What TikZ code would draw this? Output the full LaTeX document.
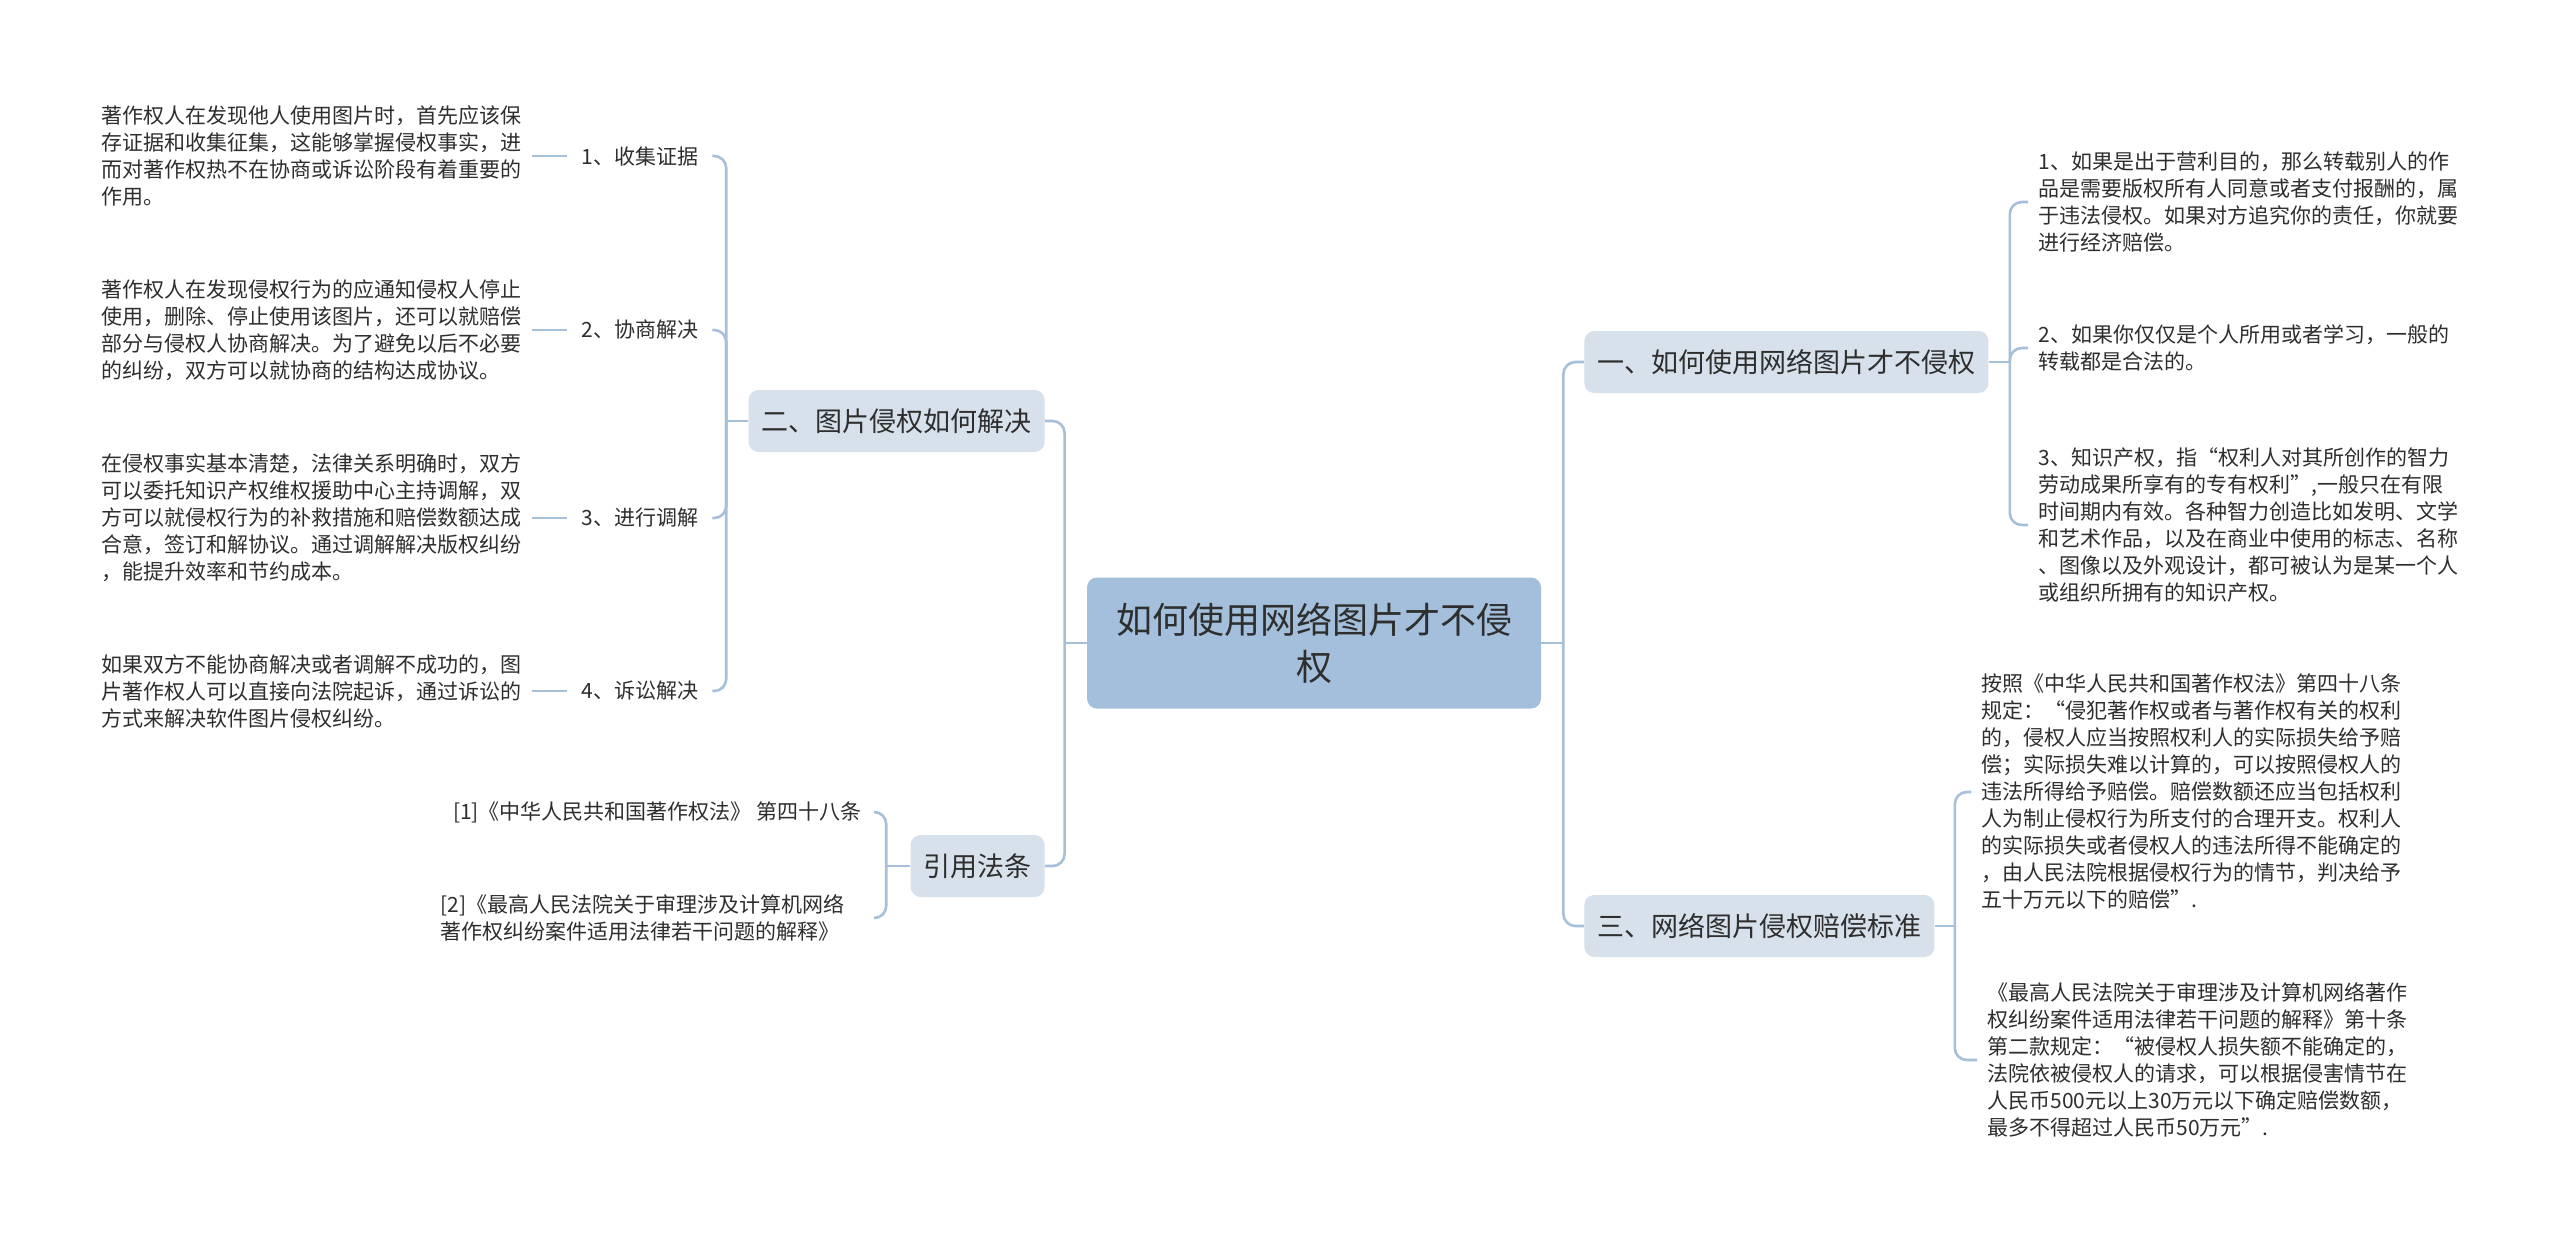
\documentclass[tikz,border=0pt]{standalone}
\usepackage{fontspec}
\newfontfamily\cjk{Noto Sans CJK SC}
\definecolor{linkblue}{HTML}{A6C0DA}
\definecolor{rootblue}{HTML}{A3BFDB}
\definecolor{branchblue}{HTML}{D6E1EB}
\definecolor{inkgray}{HTML}{2E2E2E}
\tikzset{
  link/.style={draw=linkblue,line width=1.3pt},
  elbow/.style={link,rounded corners=6pt},
  rootbox/.style={fill=rootblue,rounded corners=5pt,minimum width=227pt,minimum height=65.5pt,
    align=center,text=inkgray,font=\cjk\fontsize{18}{23.5}\selectfont},
  branchbox/.style={fill=branchblue,rounded corners=5pt,minimum height=31pt,inner xsep=6.5pt,
    text=inkgray,font=\cjk\fontsize{13.5}{16}\selectfont},
  leaf/.style={align=left,inner xsep=5pt,inner ysep=2pt,text=inkgray,
    font=\cjk\fontsize{10.5}{13.5}\selectfont},
  tag/.style={inner xsep=7pt,text=inkgray,font=\cjk\fontsize{10.5}{13.5}\selectfont}
}
\begin{document}
\begin{tikzpicture}[x=0.5pt,y=-0.5pt]
\useasboundingbox[fill=white] (0,0) rectangle (2560,1243);

\node[rootbox] (root) at (1314,643) {如何使用网络图片才不侵\\权};

\node[branchbox,anchor=east] (n2) at (1045,421) {二、图片侵权如何解决};
\node[branchbox,anchor=east] (n5) at (1045,866) {引用法条};
\node[branchbox,anchor=west] (n1) at (1584,362) {一、如何使用网络图片才不侵权};
\node[branchbox,anchor=west] (n3) at (1584,926) {三、网络图片侵权赔偿标准};

% left: 二
\node[tag,anchor=west] (l1) at (567,156) {1、收集证据};
\node[tag,anchor=west] (l2) at (567,330) {2、协商解决};
\node[tag,anchor=west] (l3) at (567,518) {3、进行调解};
\node[tag,anchor=west] (l4) at (567,691) {4、诉讼解决};
\node[leaf,anchor=west] (t1) at (91,156) {著作权人在发现他人使用图片时，首先应该保\\存证据和收集征集，这能够掌握侵权事实，进\\而对著作权热不在协商或诉讼阶段有着重要的\\作用。};
\node[leaf,anchor=west] (t2) at (91,330) {著作权人在发现侵权行为的应通知侵权人停止\\使用，删除、停止使用该图片，还可以就赔偿\\部分与侵权人协商解决。为了避免以后不必要\\的纠纷，双方可以就协商的结构达成协议。};
\node[leaf,anchor=west] (t3) at (91,518) {在侵权事实基本清楚，法律关系明确时，双方\\可以委托知识产权维权援助中心主持调解，双\\方可以就侵权行为的补救措施和赔偿数额达成\\合意，签订和解协议。通过调解解决版权纠纷\\，能提升效率和节约成本。};
\node[leaf,anchor=west] (t4) at (91,691) {如果双方不能协商解决或者调解不成功的，图\\片著作权人可以直接向法院起诉，通过诉讼的\\方式来解决软件图片侵权纠纷。};

% left: 引用法条
\node[leaf,anchor=east,inner xsep=6pt] (f1) at (874,812) {[1]《中华人民共和国著作权法》 第四十八条};
\node[leaf,anchor=east,inner xsep=0pt,text width=216.5pt] (f2) at (874,918) {[2]《最高人民法院关于审理涉及计算机网络\\著作权纠纷案件适用法律若干问题的解释》};

% right: 一
\node[leaf,anchor=west] (r1) at (2028,202) {1、如果是出于营利目的，那么转载别人的作\\品是需要版权所有人同意或者支付报酬的，属\\于违法侵权。如果对方追究你的责任，你就要\\进行经济赔偿。};
\node[leaf,anchor=west] (r2) at (2028,348) {2、如果你仅仅是个人所用或者学习，一般的\\转载都是合法的。};
\node[leaf,anchor=west] (r3) at (2028,525) {3、知识产权，指“权利人对其所创作的智力\\劳动成果所享有的专有权利”,一般只在有限\\时间期内有效。各种智力创造比如发明、文学\\和艺术作品，以及在商业中使用的标志、名称\\、图像以及外观设计，都可被认为是某一个人\\或组织所拥有的知识产权。};

% right: 三
\node[leaf,anchor=west] (r4) at (1971,792) {按照《中华人民共和国著作权法》第四十八条\\规定：“侵犯著作权或者与著作权有关的权利\\的，侵权人应当按照权利人的实际损失给予赔\\偿；实际损失难以计算的，可以按照侵权人的\\违法所得给予赔偿。赔偿数额还应当包括权利\\人为制止侵权行为所支付的合理开支。权利人\\的实际损失或者侵权人的违法所得不能确定的\\，由人民法院根据侵权行为的情节，判决给予\\五十万元以下的赔偿”.};
\node[leaf,anchor=west] (r5) at (1977,1060) {《最高人民法院关于审理涉及计算机网络著作\\权纠纷案件适用法律若干问题的解释》第十条\\第二款规定：“被侵权人损失额不能确定的，\\法院依被侵权人的请求，可以根据侵害情节在\\人民币500元以上30万元以下确定赔偿数额，\\最多不得超过人民币50万元”.};

\draw[link] (root.west) -- ++(-22,0) coordinate (jl);
\draw[link] (root.east) -- ++(22,0) coordinate (jr);
\draw[elbow] (jl) |- (n2.east);
\draw[elbow] (jl) |- (n5.east);
\draw[elbow] (jr) |- (n1.west);
\draw[elbow] (jr) |- (n3.west);

\draw[link] (n2.west) -- ++(-22,0) coordinate (j2);
\foreach \k in {1,2,3,4} {
  \draw[elbow] (j2) |- (l\k.east);
  \draw[link] (t\k.east) -- (l\k.west);
}
\draw[link] (n5.west) -- ++(-24,0) coordinate (j5);
\draw[elbow] (j5) |- (f1.east);
\draw[elbow] (j5) |- (f2.east);

\draw[link] (n1.east) -- ++(21,0) coordinate (j1);
\draw[elbow] (j1) |- (r1.west);
\draw[elbow] (j1) |- (r2.west);
\draw[elbow] (j1) |- (r3.west);
\draw[link] (n3.east) -- ++(20,0) coordinate (j3);
\draw[elbow] (j3) |- (r4.west);
\draw[elbow] (j3) |- (r5.west);

\end{tikzpicture}
\end{document}
